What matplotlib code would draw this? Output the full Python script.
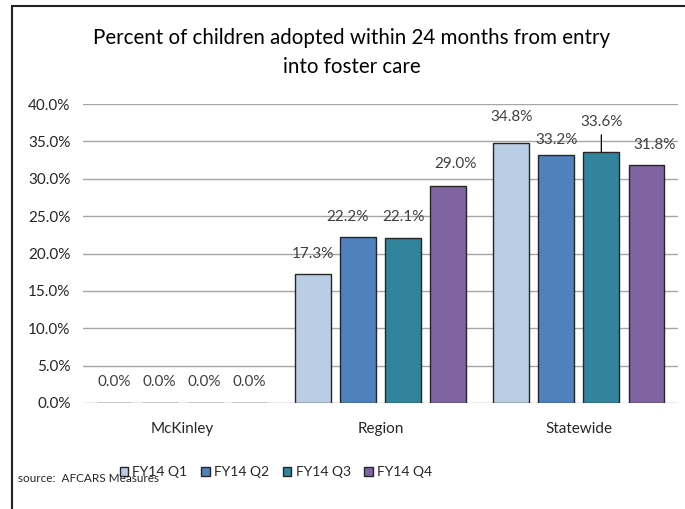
import numpy as np
import matplotlib.pyplot as plt
from matplotlib.patches import Rectangle

plt.rcParams['font.family'] = ['Lato', 'DejaVu Sans']

# data
categories = ['McKinley', 'Region', 'Statewide']
quarters = ['FY14 Q1', 'FY14 Q2', 'FY14 Q3', 'FY14 Q4']
values = {
    'FY14 Q1': [0.0, 17.3, 34.8],
    'FY14 Q2': [0.0, 22.2, 33.2],
    'FY14 Q3': [0.0, 22.1, 33.6],
    'FY14 Q4': [0.0, 29.0, 31.8],
}
yticks = [0, 5, 10, 15, 20, 25, 30, 35, 40]

colors = ['#B9CDE5', '#4F81BD', '#31849B', '#8064A2']
# label offsets in pixels (dx, dy) per quarter and category, as placed in the original
label_offsets = {
    'FY14 Q1': [(0, 21), (0, 20), (0, 26)],
    'FY14 Q2': [(0, 21), (-11, 20), (0, 15)],
    'FY14 Q3': [(0, 21), (0, 21), (0, 30)],
    'FY14 Q4': [(0, 21), (7, 22), (8, 20)],
}

fig = plt.figure(figsize=(6.85, 5.09), dpi=100)
ax = fig.add_axes([83 / 685, 1 - 403 / 509, 595 / 685, 299 / 509])

x = np.arange(len(categories))
step = 0.227
width = 0.18

for i, q in enumerate(quarters):
    pos = x + (i - 1.5) * step
    ax.bar(pos, values[q], width, color=colors[i], edgecolor='#262626',
           linewidth=1.0, label=q, zorder=3)
    for j, v in enumerate(values[q]):
        dx, dy = label_offsets[q][j]
        ax.annotate(f'{v:.1f}%', xy=(pos[j], v), xytext=(dx, dy),
                    textcoords='offset pixels', ha='center', va='center',
                    fontsize=11, color='#404040', zorder=5)

# leader line for the Statewide Q3 label
ax.annotate('', xy=(x[2] + 0.5 * step, values['FY14 Q3'][2]), xytext=(0, 17),
            textcoords='offset pixels',
            arrowprops=dict(arrowstyle='-', color='black', lw=0.9,
                            shrinkA=0, shrinkB=0))

ax.set_xlim(-0.5, 2.5)
ax.set_ylim(0, 40)
ax.set_yticks(yticks)
ax.set_yticklabels([f'{t:.1f}%' for t in yticks])
ax.set_xticks(x)
ax.set_xticklabels(categories)
ax.tick_params(axis='y', length=0, pad=9, labelsize=11, labelcolor='#262626')
ax.tick_params(axis='x', length=0, pad=14, labelsize=11, labelcolor='#262626')
ax.yaxis.grid(True, color='#a6a6a6', linewidth=1.0, zorder=4)
ax.set_axisbelow(False)
for s in ax.spines.values():
    s.set_visible(False)

fig.text(352 / 685, 1 - 38 / 509,
         'Percent of children adopted within 24 months from entry',
         ha='center', va='center', fontsize=14.8, color='black')
fig.text(352 / 685, 1 - 67 / 509, 'into foster care',
         ha='center', va='center', fontsize=14.8, color='black')

fig.text(18 / 685, 1 - 479 / 509, 'source:  AFCARS Measures',
         ha='left', va='center', fontsize=8.5, color='#262626')

fig.legend(loc='center', bbox_to_anchor=(276 / 685, 1 - 472 / 509), ncol=4,
           frameon=False, fontsize=10, handlelength=0.6, handleheight=0.6,
           handletextpad=0.3, columnspacing=1.0, labelcolor='#262626')

# outer chart border
fig.patches.append(Rectangle((12 / 685, -0.1), 1.2, 1.1 - 6 / 509,
                             transform=fig.transFigure, fill=False,
                             edgecolor='#222222', linewidth=1.5))

fig.savefig('out.png', dpi=100)
